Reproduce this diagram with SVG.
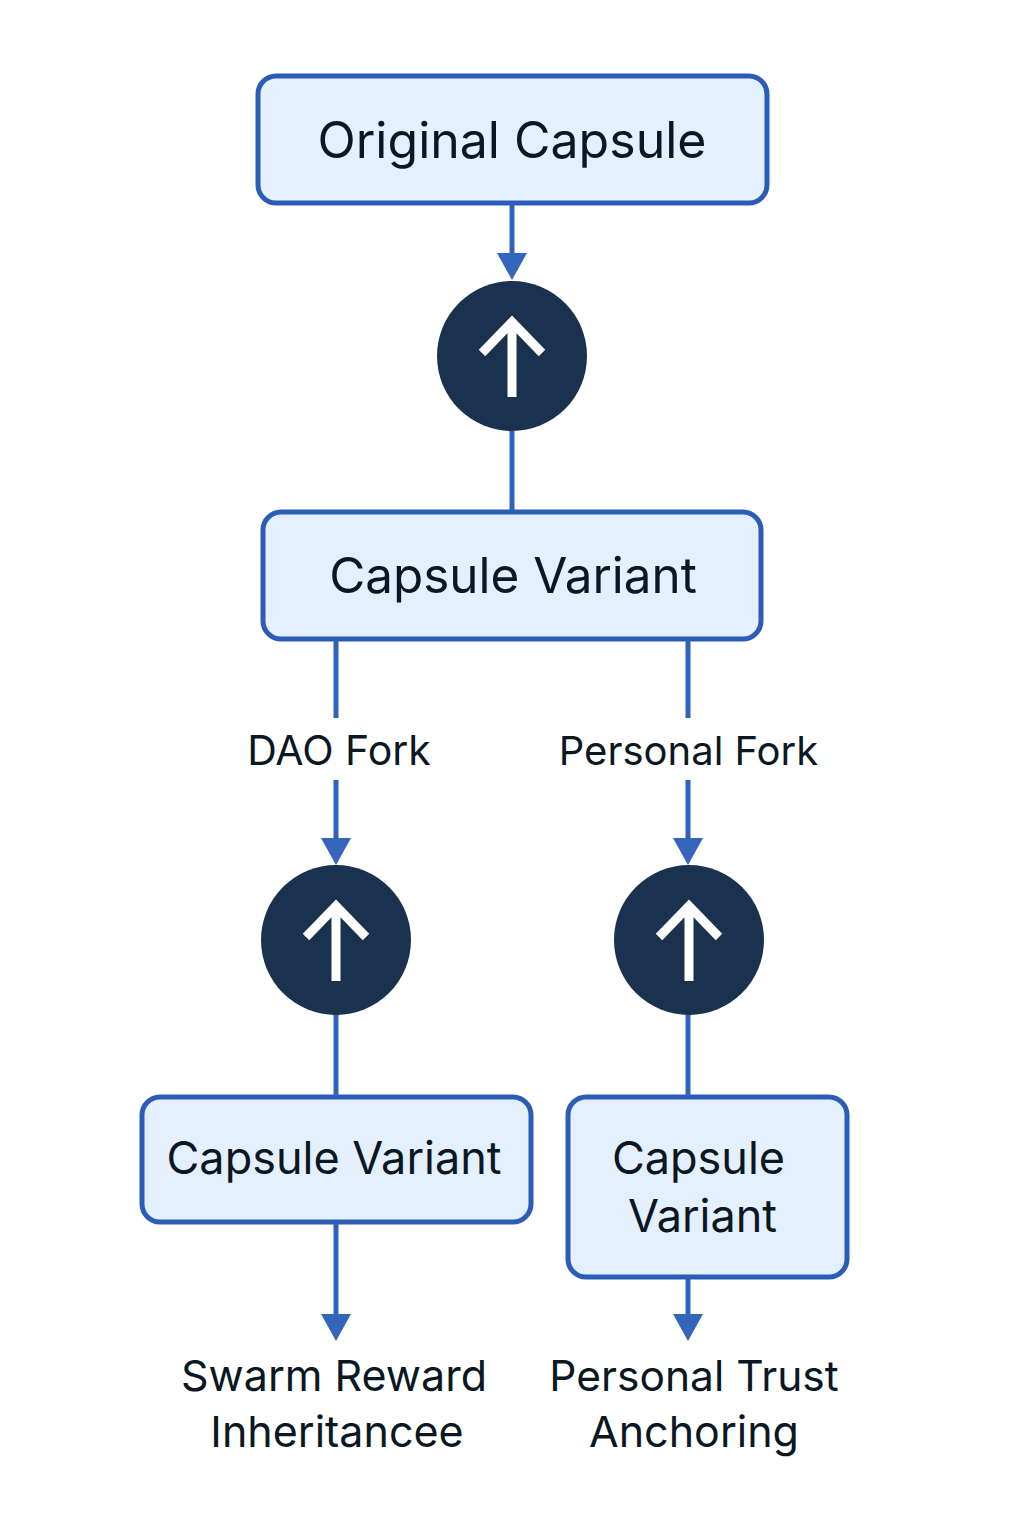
<svg xmlns="http://www.w3.org/2000/svg" width="1024" height="1536" viewBox="0 0 1024 1536">
<defs>
<marker id="ah" markerUnits="userSpaceOnUse" markerWidth="27" markerHeight="30" refX="7" refY="15" orient="auto"><path d="M0 0L27 15L0 30Z" fill="#3366bb"/></marker>
<g id="up"><circle r="75" fill="#1a324f"/><path d="M0 41V-36M-30 -3L0 -34L30 -3" fill="none" stroke="#fff" stroke-width="9"/></g>
</defs>
<style>
.box{fill:#e4f0fd;stroke:#2c5db6;stroke-width:5}
.c{fill:none;stroke:#2f62ba;stroke-width:5}
text{font-family:"Inter","Noto Sans","Liberation Sans",sans-serif;fill:#0b1722;text-anchor:middle}
.xl{font-size:50px}.l{font-size:49.4px}.m{font-size:45px}.t{font-size:43px}.s{font-size:40px}
</style>
<rect width="1024" height="1536" fill="#fff"/>
<g id="connectors">
<path class="c" d="M512 204V260" marker-end="url(#ah)"/>
<path class="c" d="M512 431V512"/>
<path class="c" d="M336 640V718M336 780V845" marker-end="url(#ah)"/>
<path class="c" d="M688 640V718M688 780V845" marker-end="url(#ah)"/>
<path class="c" d="M336 1014V1097"/>
<path class="c" d="M688 1014V1097"/>
<path class="c" d="M336 1222V1321" marker-end="url(#ah)"/>
<path class="c" d="M688 1277V1321" marker-end="url(#ah)"/>
</g>
<g id="n1"><rect class="box" x="258" y="76" width="509" height="127" rx="18"/><text class="xl" x="512" y="158">Original Capsule</text></g>
<g id="c1"><use href="#up" x="512" y="356"/></g>
<g id="n2"><rect class="box" x="263" y="512" width="498" height="127" rx="18"/><text class="l" x="513" y="593">Capsule Variant</text></g>
<g id="l1"><text class="s" x="339" y="765" style="font-size:41px">DAO Fork</text></g>
<g id="l2"><text class="s" x="688.500" y="765">Personal Fork</text></g>
<g id="c2"><use href="#up" x="336" y="940"/></g>
<g id="c3"><use href="#up" x="689" y="940"/></g>
<g id="n3"><rect class="box" x="142" y="1097" width="389" height="125" rx="18"/><text class="m" x="334" y="1174">Capsule Variant</text></g>
<g id="n4"><rect class="box" x="568" y="1097" width="279" height="180" rx="18"/><text class="m" x="698.500" y="1174">Capsule</text><text class="m" x="702.500" y="1232">Variant</text></g>
<g id="t1"><text class="t" x="334" y="1391">Swarm Reward</text><text class="t" x="337" y="1447">Inheritancee</text></g>
<g id="t2"><text class="t" x="694" y="1391" style="font-size:42.500px">Personal Trust</text><text class="t" x="694" y="1447">Anchoring</text></g>
</svg>
